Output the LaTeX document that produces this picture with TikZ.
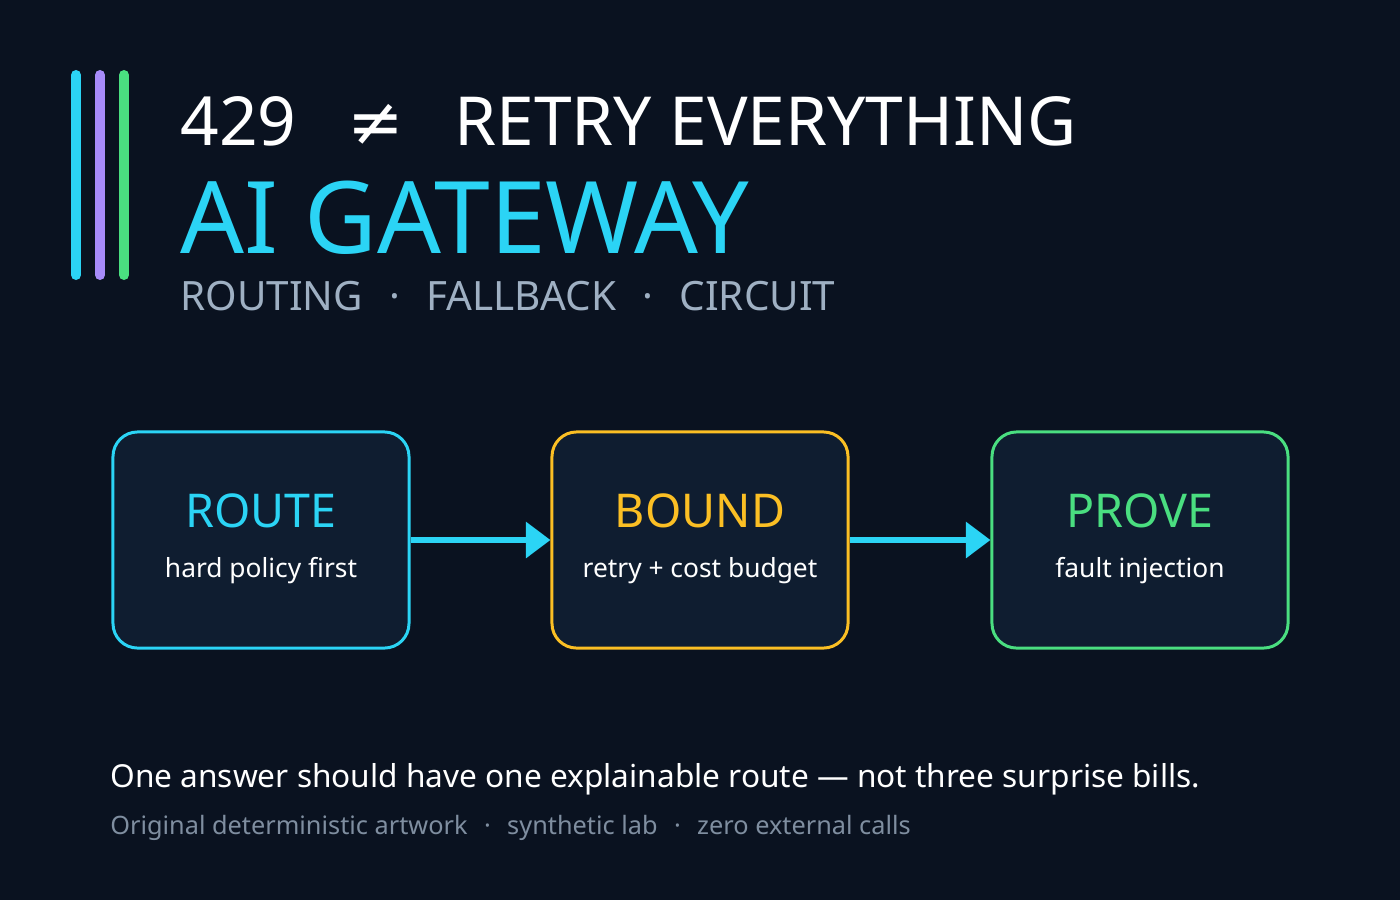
\documentclass[tikz,border=0pt]{standalone}
\usepackage{fontspec}
\setmainfont{Noto Sans}
\newfontfamily\symfont{DejaVu Sans}
\usetikzlibrary{arrows.meta,positioning}
\definecolor{bgc}{HTML}{0A1220}
\definecolor{boxc}{HTML}{0F1D30}
\definecolor{cyanc}{HTML}{2BD4F5}
\definecolor{purplec}{HTML}{A78BFA}
\definecolor{greenc}{HTML}{4ADE80}
\definecolor{amberc}{HTML}{FBBF24}
\definecolor{greyc}{HTML}{9FB0C3}
\definecolor{footc}{HTML}{7F8EA0}
\tikzset{
  stage/.style={draw=#1, line width=1.7pt, fill=boxc, rounded corners=14pt,
    minimum width=168.5pt, minimum height=123pt},
  ttl/.style={text=#1, font=\fontsize{26.5}{28}\selectfont},
  sub/.style={text=white, font=\fontsize{15}{17}\selectfont},
  flow/.style={cyanc, line width=3.4pt, -{Triangle[length=14pt,width=20pt]}},
  bar/.style={line width=5.7pt, line cap=round}
}
\begin{document}
\begin{tikzpicture}[x=0.02cm,y=-0.02cm]
\fill[bgc] (0,0) rectangle (1400,900);
\useasboundingbox (0,0) rectangle (1400,900);
% accent bars
\draw[bar, cyanc] (76,75) -- (76,275);
\draw[bar, purplec] (100,75) -- (100,275);
\draw[bar, greenc] (124,75) -- (124,275);
% headings
\node[anchor=base west, inner sep=0, text=white, font=\fontsize{38.5}{40}\selectfont] (head) at (180,145)
  {429\hspace{0.75em}{\symfont ≠}\hspace{0.75em}RETRY EVERYTHING};
\node[anchor=base west, inner sep=0, text=cyanc, font=\fontsize{57}{60}\selectfont] (gw) at (180,253) {AI GATEWAY};
\node[anchor=base west, inner sep=0, text=greyc, font=\fontsize{23}{26}\selectfont] (tags) at (180,310)
  {ROUTING\hspace{0.65em}·\hspace{0.65em}FALLBACK\hspace{0.65em}·\hspace{0.65em}CIRCUIT};
% stages
\node[stage=cyanc] (route) at (261,540) {};
\node[stage=amberc] (bound) at (700,540) {};
\node[stage=greenc] (prove) at (1140,540) {};
\node[ttl=cyanc] at (261,511) {ROUTE};
\node[sub] at (261,571) {hard policy first};
\node[ttl=amberc] at (700,511) {BOUND};
\node[sub] at (700,571) {retry + cost budget};
\node[ttl=greenc] at (1140,511) {PROVE};
\node[sub] at (1140,571) {fault injection};
\draw[flow] (route.east) -- (bound.west);
\draw[flow] (bound.east) -- (prove.west);
% footer
\node[anchor=base west, inner sep=0, text=white, font=\fontsize{18}{20}\selectfont] (claim) at (110,787)
  {One answer should have one explainable route — not three surprise bills.};
\node[anchor=base west, inner sep=0, text=footc, font=\fontsize{14.4}{16}\selectfont] (note) at (110,834)
  {Original deterministic artwork\hspace{0.65em}·\hspace{0.65em}synthetic lab\hspace{0.65em}·\hspace{0.65em}zero external calls};
\end{tikzpicture}
\end{document}
